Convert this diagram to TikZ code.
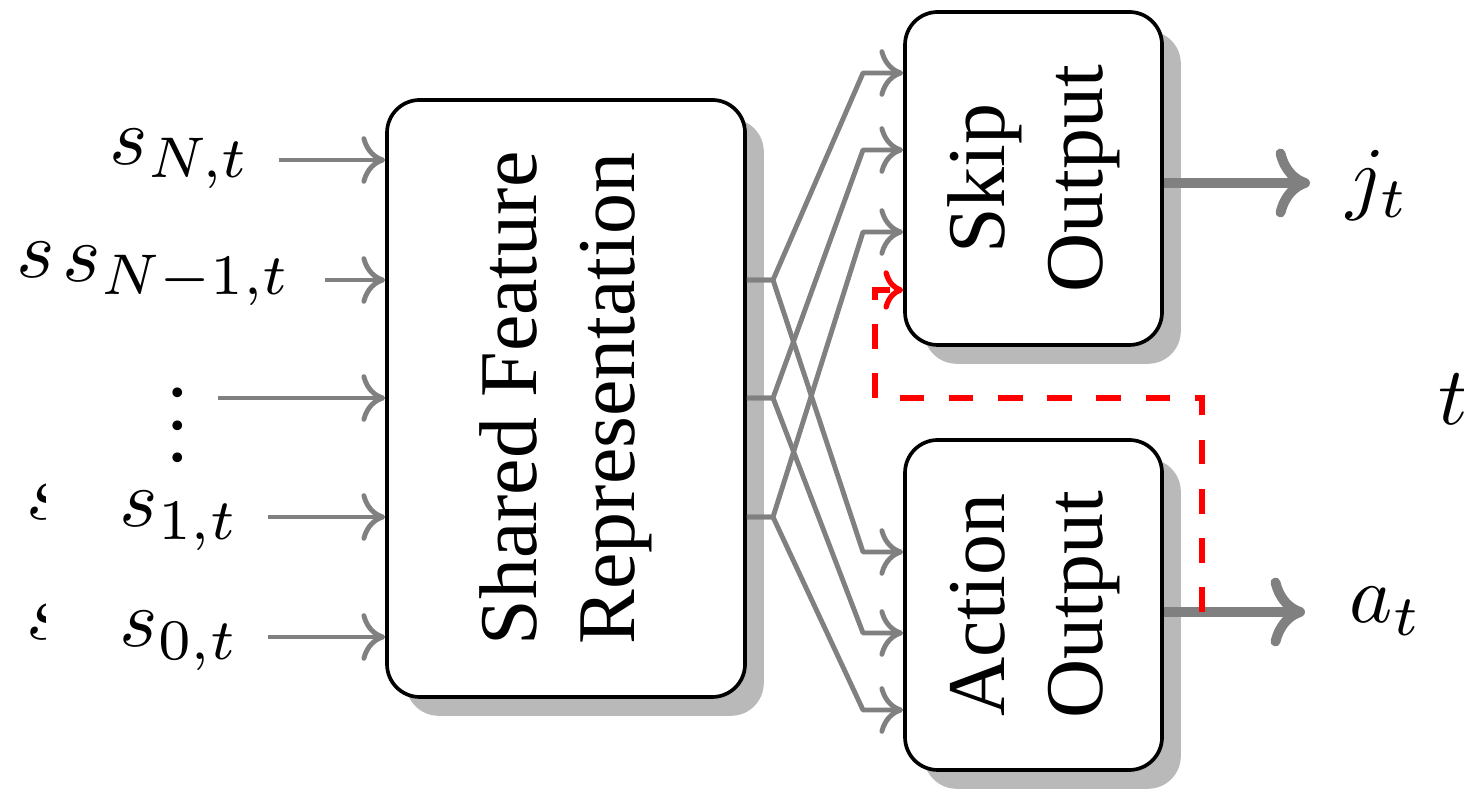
\documentclass[tikz,border=0pt]{standalone}
\usepackage{fontspec}
\setmainfont{Liberation Serif}
\usetikzlibrary{arrows.meta,shadows,calc}
\newlength\pu
\setlength\pu{0.122pt}
\begin{document}
\begin{tikzpicture}[x=0.122pt,y=-0.122pt,
  box/.style={draw=black, line width=0.45pt, rounded corners=4pt, fill=white,
    drop shadow={opacity=0.55}, inner sep=0pt},
  lab/.style={inner sep=0pt, anchor=base west},
  inarrow/.style={draw=gray, line width=0.6pt, line join=round,
    -{Computer Modern Rightarrow[length=2.9pt,width=5.8pt]}},
  outarrow/.style={draw=gray, line width=1.2pt,
    -{Computer Modern Rightarrow[length=4.2pt,width=8.4pt]}},
  fback/.style={draw=red, dashed, line width=0.65pt,
    -{Computer Modern Rightarrow[length=2.4pt,width=4.8pt]}}]
\useasboundingbox (0,0) rectangle (1464,795);

% boxes
\node[box, minimum width=358\pu, minimum height=597\pu] (sfr) at (566,398.5)
  {\rotatebox{90}{\begin{tabular}{@{}c@{}}Shared Feature\\Representation\end{tabular}}};
\node[box, minimum width=257\pu, minimum height=333\pu] (skip) at (1033.5,178.5)
  {\rotatebox{90}{\begin{tabular}{@{}c@{}}Skip\\Output\end{tabular}}};
\node[box, minimum width=257\pu, minimum height=330\pu] (act) at (1033.5,605)
  {\rotatebox{90}{\begin{tabular}{@{}c@{}}Action\\Output\end{tabular}}};

% input labels
\node[lab] (lN) at (108,165) {$s_{N,t}$};
\node[lab] (sx1) at (15,278) {$s$};
\node[lab] (lN1) at (61,282) {$s_{N-1,t}$};
\node[inner sep=0pt, anchor=base] (ld) at (178,462) {$\vdots$};
\begin{scope}
  \clip (0,470) rectangle (45,670);
  \node[lab] (sx2) at (25,520) {$s$};
  \node[lab] (sx3) at (25,640) {$s$};
\end{scope}
\node[lab] (l1) at (118,527) {$s_{1,t}$};
\node[lab] (l0) at (118,647) {$s_{0,t}$};

% input arrows
\coordinate (i1) at (279,160);
\coordinate (i2) at (325,280);
\coordinate (i3) at (218,398);
\coordinate (i4) at (268,517);
\coordinate (i5) at (268,637);
\foreach \c in {i1,i2,i3,i4,i5}
  \draw[inarrow] (\c) -- (\c -| sfr.west);

% branches
\coordinate (b1) at (773,280);
\coordinate (b2) at (773,398);
\coordinate (b3) at (773,517);
\coordinate (k1) at (863,73);
\coordinate (k2) at (863,150);
\coordinate (k3) at (863,232);
\coordinate (a1) at (863,552);
\coordinate (a2) at (863,633);
\coordinate (a3) at (863,710);
\draw[inarrow] (b1 -| sfr.east) -- (b1) -- (k1) -- (k1 -| skip.west);
\draw[inarrow] (b2 -| sfr.east) -- (b2) -- (k2) -- (k2 -| skip.west);
\draw[inarrow] (b3 -| sfr.east) -- (b3) -- (k3) -- (k3 -| skip.west);
\draw[inarrow] (b1 -| sfr.east) -- (b1) -- (a1) -- (a1 -| act.west);
\draw[inarrow] (b2 -| sfr.east) -- (b2) -- (a2) -- (a2 -| act.west);
\draw[inarrow] (b3 -| sfr.east) -- (b3) -- (a3) -- (a3 -| act.west);

% outputs
\coordinate (oj) at (1310,183);
\coordinate (oa) at (1305,612);
\draw[outarrow] (oj -| skip.east) -- (oj);
\draw[outarrow] (oa -| act.east) -- (oa);
\node[lab] (jt) at (1345,205) {$j_t$};
\node[lab] (at) at (1348,623) {$a_t$};
\node[lab] (tt) at (1437,425) {$t$};

% feedback
\coordinate (r0) at (1202,612);
\coordinate (r1) at (1202,398);
\coordinate (r2) at (875,398);
\coordinate (r3) at (875,290);
\draw[fback] (r0) -- (r1) -- (r2) -- (r3) -- (r3 -| skip.west);
\end{tikzpicture}
\end{document}
